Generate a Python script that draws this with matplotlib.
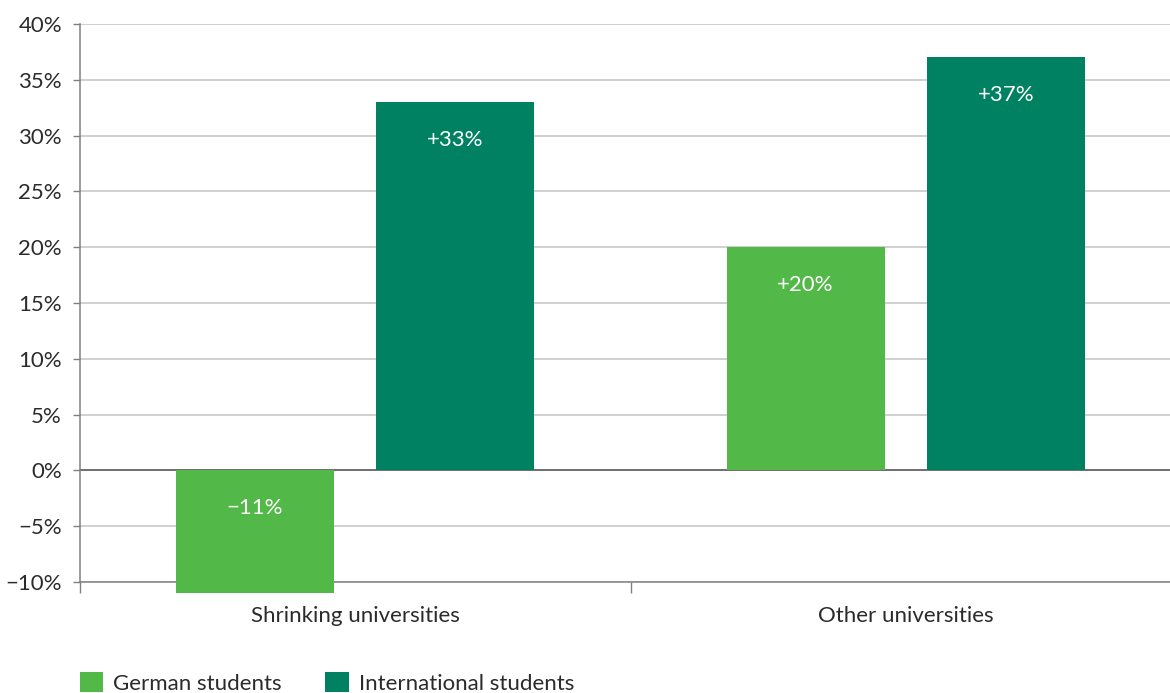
import matplotlib
matplotlib.use("Agg")
import matplotlib.pyplot as plt
import numpy as np

categories = ["Shrinking universities", "Other universities"]
series_names = ["German students", "International students"]
german = [-11, 20]
international = [33, 37]
bar_labels_german = ["\u221211%", "+20%"]
bar_labels_intl = ["+33%", "+37%"]
yticks = [-10, -5, 0, 5, 10, 15, 20, 25, 30, 35, 40]

c_german = "#52B848"
c_intl = "#008262"
txt = "#2b2b2b"

plt.rcParams["font.family"] = ["Lato", "DejaVu Sans"]
FS = 16
plt.rcParams["font.size"] = FS

W, H = 1170, 693
fig = plt.figure(figsize=(W / 100, H / 100), dpi=100)
ax = fig.add_axes([80 / W, 1 - 582 / H, (1170 - 80) / W, (582 - 24) / H])

x = np.arange(len(categories))
bw = 0.287
off = 0.182
b1 = ax.bar(x - off, german, bw, color=c_german, label=series_names[0], clip_on=False, zorder=3)
b2 = ax.bar(x + off, international, bw, color=c_intl, label=series_names[1], clip_on=False, zorder=3)

for bars, labs in ((b1, bar_labels_german), (b2, bar_labels_intl)):
    for rect, lab in zip(bars, labs):
        h = rect.get_height()
        top = rect.get_y() + h if h >= 0 else rect.get_y()
        ax.annotate(lab, (rect.get_x() + rect.get_width() / 2, top),
                    xytext=(0, -27), textcoords="offset points",
                    ha="center", va="center", color="white", fontsize=FS, zorder=4)

ax.set_yticks(yticks)
ax.set_yticklabels([("\u2212%d%%" % -v) if v < 0 else "%d%%" % v for v in yticks])
ax.yaxis.grid(True, color="#c4c4c4", linewidth=1.1, zorder=0)
ax.set_axisbelow(True)
ax.axhline(0, color="#555555", linewidth=1.1, zorder=2)

ax.set_xticks(x)
ax.set_xticklabels(categories)
ax.set_xticks([-0.5, 0.5], minor=True)
ax.set_xlim(-0.5, 1.48)
ax.set_ylim(-10, 40)
ax.tick_params(axis="x", which="major", length=0, pad=17, colors=txt)
ax.tick_params(axis="x", which="minor", length=8, color="#808080", width=1)
ax.tick_params(axis="y", length=5, color="#808080", width=1, pad=8, colors=txt)
for lab in ax.get_yticklabels() + ax.get_xticklabels():
    lab.set_color(txt)

for s in ("top", "right"):
    ax.spines[s].set_visible(False)
ax.spines["left"].set_color("#808080")
ax.spines["bottom"].set_color("#808080")
ax.spines["left"].set_linewidth(1.1)
ax.spines["bottom"].set_linewidth(1.1)

fig.legend(handles=[b1, b2], labels=series_names, loc="upper left",
           bbox_to_anchor=(80 / W, 1 - 672 / H), ncol=2, frameon=False,
           borderaxespad=0, borderpad=0, handlelength=1.05, handleheight=1.0,
           handletextpad=0.45, columnspacing=1.95, fontsize=FS, labelcolor=txt)

fig.savefig("out.png", dpi=100)
